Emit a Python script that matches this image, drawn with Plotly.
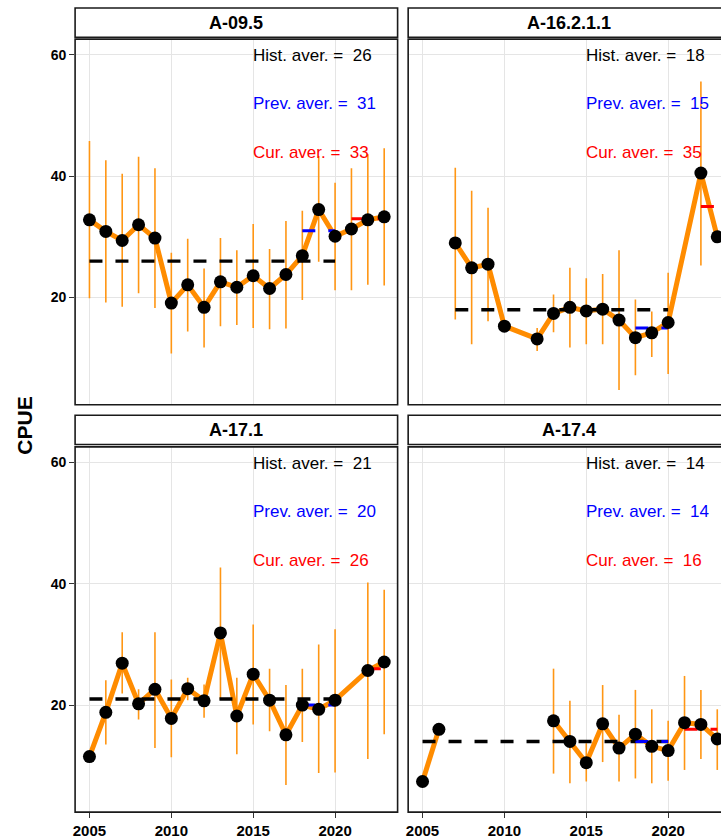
import plotly.graph_objects as go

# ---------------- data ----------------
panel_names = ["A-09.5", "A-16.2.1.1", "A-17.1", "A-17.4"]

a095_years = list(range(2005, 2024))
a095_cpue = [32.8, 30.9, 29.4, 32.0, 29.8, 19.1, 22.1, 18.4, 22.6, 21.7, 23.6, 21.5, 23.8, 26.9, 34.5, 30.1, 31.3, 32.8, 33.3]
a095_upper = [45.8, 42.6, 40.4, 43.2, 41.3, 27.4, 29.7, 24.8, 29.8, 27.8, 32.1, 28.0, 32.6, 34.3, 43.3, 38.9, 41.3, 43.6, 44.6]
a095_lower = [19.9, 19.2, 18.5, 20.7, 18.3, 10.8, 14.4, 11.8, 15.3, 15.5, 15.0, 14.8, 14.9, 19.6, 25.9, 21.2, 21.2, 22.1, 22.0]

a16_years = [2007, 2008, 2009, 2010, 2012, 2013, 2014, 2015, 2016, 2017, 2018, 2019, 2020, 2022, 2023]
a16_cpue = [29.0, 24.9, 25.5, 15.3, 13.2, 17.4, 18.4, 17.8, 18.1, 16.3, 13.4, 14.2, 15.9, 40.5, 30.0]
a16_upper = [41.4, 37.6, 34.8, None, 15.0, 20.5, 24.9, 23.2, 23.9, 27.8, 19.7, 17.7, 24.1, 55.6, None]
a16_lower = [16.4, 12.3, 16.1, None, 11.2, 14.3, 11.8, 12.3, 12.3, 4.8, 7.2, 10.2, 7.4, 25.3, None]

a171_years = [2005, 2006, 2007, 2008, 2009, 2010, 2011, 2012, 2013, 2014, 2015, 2016, 2017, 2018, 2019, 2020, 2022, 2023]
a171_cpue = [11.5, 18.8, 26.9, 20.2, 22.6, 17.8, 22.7, 20.7, 31.9, 18.2, 25.1, 20.8, 15.1, 20.0, 19.3, 20.8, 25.7, 27.1]
a171_upper = [None, 24.1, 32.0, 22.6, 32.0, 24.2, 24.5, 23.4, 42.7, 24.5, 33.3, 26.0, 23.3, 26.0, 30.0, 32.5, 40.2, 39.0]
a171_lower = [None, 13.5, 21.9, 17.6, 12.9, 11.4, 20.8, 17.9, 20.9, 11.9, 16.8, 15.7, 6.8, 13.9, 8.8, 8.9, 11.1, 15.2]

a174_years = list(range(2005, 2024))
a174_cpue = [7.4, 16.0, None, None, None, None, None, None, 17.4, 14.0, 10.5, 16.9, 12.9, 15.2, 13.2, 12.5, 17.1, 16.8, 14.4]
a174_upper = [None, None, None, None, None, None, None, None, 26.0, 20.7, 13.7, 23.3, 18.4, 22.5, 19.3, 17.4, 24.8, 22.5, 19.3]
a174_lower = [None, None, None, None, None, None, None, None, 8.7, 7.1, 7.4, 10.6, 7.4, 7.9, 7.1, 7.5, 9.3, 11.1, 9.3]

hist_aver = [26, 18, 21, 14]
prev_aver = [31, 15, 20, 14]
cur_aver = [33, 35, 26, 16]

hist_period = (2005, 2020)
prev_period = (2018, 2020)
cur_period = (2021, 2023)

x_tick_vals = [2005, 2010, 2015, 2020]
y_tick_vals = [20, 40, 60]

series = [
    (a095_years, a095_cpue, a095_upper, a095_lower),
    (a16_years, a16_cpue, a16_upper, a16_lower),
    (a171_years, a171_cpue, a171_upper, a171_lower),
    (a174_years, a174_cpue, a174_upper, a174_lower),
]

# ---------------- layout constants (pixels) ----------------
W, H = 721, 839
col_px = [(73.3, 396.7), (407.3, 721.0)]
col_full_right = [396.7, 730.7]
row_px = [(39.3, 406.7), (449.0, 816.0)]
strip_px = [(8.0, 37.5), (417.3, 446.7)]
px_per_year = 16.42
x_left_val = 2005 - (87.7 - 73.3) / px_per_year
y_range = [2.35, 62.57]

FONT = "Liberation Sans, Arial, sans-serif"
ORANGE = "rgb(255,140,0)"
ORANGE_BAR = "rgb(255,150,20)"
GRID = "rgb(229,229,229)"
DASH = "13px,13px"


def px2x(p):
    return p / W


def px2y(p):
    return 1 - p / H


fig = go.Figure()
layout = dict()
shapes = []
annotations = []

for i, (yrs, cp, up, lo) in enumerate(series):
    r, c = divmod(i, 2)
    xa = "x" if i == 0 else f"x{i+1}"
    ya = "y" if i == 0 else f"y{i+1}"

    # error bars
    err_plus = [(u - v) if (u is not None and v is not None) else 0 for u, v in zip(up, cp)]
    err_minus = [(v - l) if (l is not None and v is not None) else 0 for l, v in zip(lo, cp)]
    fig.add_trace(go.Scatter(
        x=yrs, y=cp, mode="markers", xaxis=xa, yaxis=ya,
        marker=dict(size=1, opacity=0),
        error_y=dict(type="data", symmetric=False, array=err_plus, arrayminus=err_minus,
                     color=ORANGE_BAR, thickness=1.6, width=0),
        showlegend=False, hoverinfo="skip"))

    # orange line
    fig.add_trace(go.Scatter(
        x=yrs, y=cp, mode="lines", xaxis=xa, yaxis=ya,
        line=dict(color=ORANGE, width=5), connectgaps=False,
        showlegend=False, hoverinfo="skip"))

    # average segments
    valid = [y for y, v in zip(yrs, cp) if v is not None]
    for (p0, p1), lvl, col, lw in [(hist_period, hist_aver[i], "black", 3.4),
                                   (prev_period, prev_aver[i], "rgb(0,0,255)", 3.0),
                                   (cur_period, cur_aver[i], "rgb(255,0,0)", 3.0)]:
        yy = [y for y in valid if p0 <= y <= p1]
        fig.add_trace(go.Scatter(
            x=[min(yy), max(yy)], y=[lvl, lvl], mode="lines", xaxis=xa, yaxis=ya,
            line=dict(color=col, width=lw, dash=DASH),
            showlegend=False, hoverinfo="skip"))

    # points
    fig.add_trace(go.Scatter(
        x=yrs, y=cp, mode="markers", xaxis=xa, yaxis=ya,
        marker=dict(color="black", size=13),
        showlegend=False, hoverinfo="skip"))

    x0p, x1p = col_px[c]
    y0p, y1p = row_px[r]
    x_range = [x_left_val, x_left_val + (x1p - x0p) / px_per_year]

    xkey = "xaxis" if i == 0 else f"xaxis{i+1}"
    ykey = "yaxis" if i == 0 else f"yaxis{i+1}"
    layout[xkey] = dict(
        domain=[px2x(x0p), px2x(x1p)], range=x_range, anchor=ya,
        tickmode="array", tickvals=x_tick_vals,
        showgrid=True, gridcolor=GRID, gridwidth=1.4, zeroline=False, showline=False,
        showticklabels=(r == 1), ticks=("outside" if r == 1 else ""), ticklen=5,
        tickcolor="#333333", tickwidth=1.2,
        tickfont=dict(family=FONT, size=15, color="black", weight="bold"),
        fixedrange=True)
    layout[ykey] = dict(
        domain=[px2y(y1p), px2y(y0p)], range=y_range, anchor=xa,
        tickmode="array", tickvals=y_tick_vals,
        showgrid=True, gridcolor=GRID, gridwidth=1.4, zeroline=False, showline=False,
        showticklabels=(c == 0), ticks=("outside" if c == 0 else ""), ticklen=5,
        tickcolor="#333333", tickwidth=1.2,
        tickfont=dict(family=FONT, size=14, color="black", weight="bold"),
        fixedrange=True)

    # panel border
    xr = x1p if c == 0 else col_full_right[1]
    shapes.append(dict(type="rect", xref="paper", yref="paper",
                       x0=px2x(x0p), x1=px2x(xr), y0=px2y(y1p), y1=px2y(y0p),
                       line=dict(color="#1a1a1a", width=1.6), fillcolor="rgba(0,0,0,0)", layer="above"))
    # strip
    s0, s1 = strip_px[r]
    shapes.append(dict(type="rect", xref="paper", yref="paper",
                       x0=px2x(x0p), x1=px2x(xr), y0=px2y(s1), y1=px2y(s0),
                       line=dict(color="#1a1a1a", width=1.6), fillcolor="white", layer="above"))
    annotations.append(dict(xref="paper", yref="paper", x=px2x((x0p + xr) / 2), y=px2y((s0 + s1) / 2),
                            text=panel_names[i], showarrow=False, xanchor="center", yanchor="middle",
                            font=dict(family=FONT, size=18, color="black", weight="bold")))

    # average labels
    for txt, val, col, ylab in [("Hist. aver. =", hist_aver[i], "black", 59.8),
                                ("Prev. aver. =", prev_aver[i], "rgb(0,0,255)", 51.9),
                                ("Cur. aver. =", cur_aver[i], "rgb(255,0,0)", 43.9)]:
        annotations.append(dict(xref=xa, yref=ya, x=2015, y=ylab, xshift=-2,
                                text=f"{txt} \u00a0{val}", showarrow=False,
                                xanchor="left", yanchor="middle",
                                font=dict(family=FONT, size=17, color=col)))

annotations.append(dict(xref="paper", yref="paper", x=px2x(22.8), y=px2y(428),
                        text="CPUE", showarrow=False, textangle=-90,
                        xanchor="center", yanchor="middle",
                        font=dict(family=FONT, size=21, color="black", weight="bold")))

fig.update_layout(
    width=W, height=H, margin=dict(l=0, r=0, t=0, b=0),
    paper_bgcolor="white", plot_bgcolor="white",
    shapes=shapes, annotations=annotations, showlegend=False,
    **layout)

fig.write_html("out.html", config={"displayModeBar": False},
               post_script="document.body.style.margin='0';document.body.style.overflow='hidden';")
